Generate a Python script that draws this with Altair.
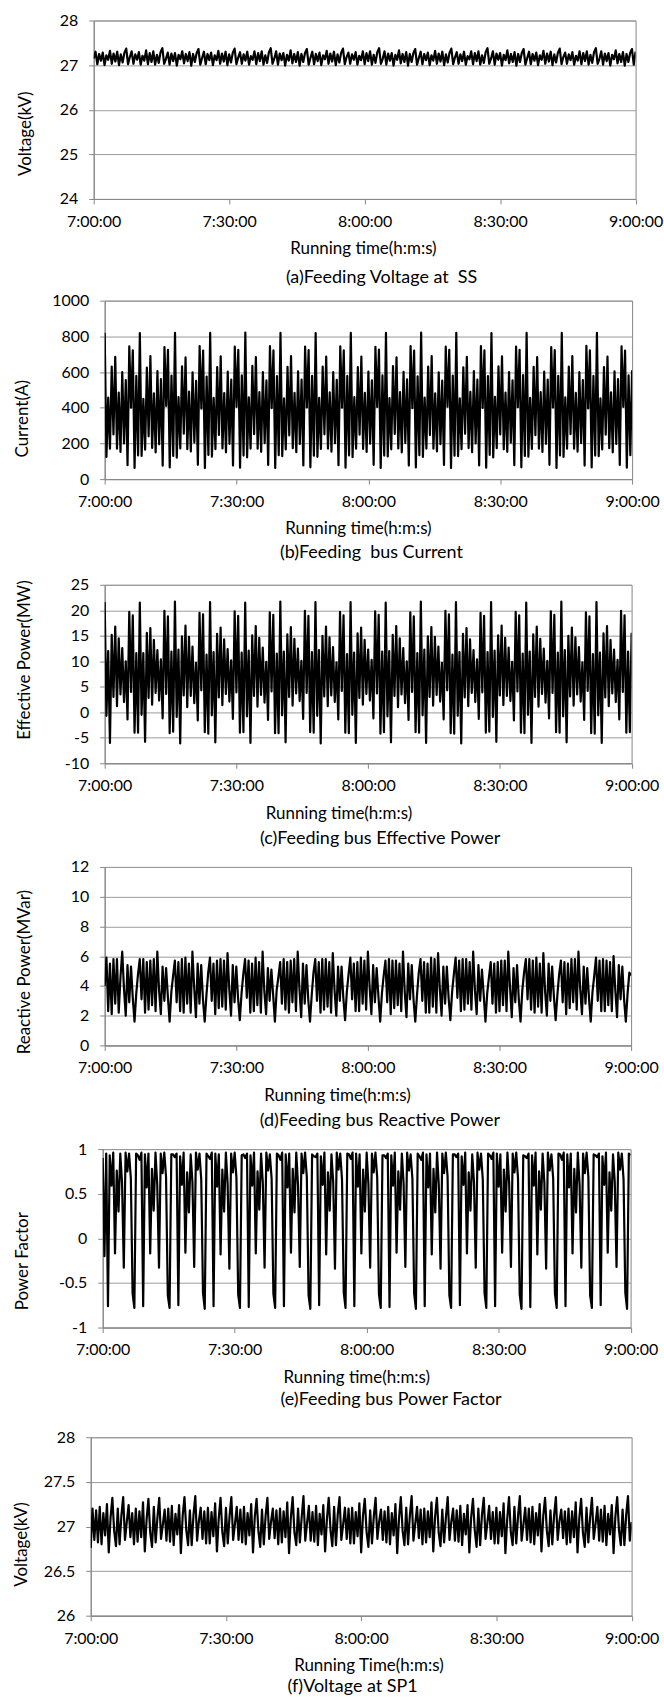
import altair as alt
import pandas as pd

# ---------------- data (one row = one 8-minute train cycle) ----------------
voltage_ss_kv = [
    [27.15,27.30,27.02,27.25,27.10,27.28,27.00,27.22,27.12,27.32,27.03,27.26,27.08,27.30,27.00,27.24,27.06,27.28,27.37,27.02],
    [27.18,27.31,27.03,27.24,27.12,27.29,27.01,27.21,27.10,27.33,27.02,27.27,27.07,27.31,27.01,27.23,27.05,27.29,27.38,27.03],
    [27.14,27.28,27.01,27.26,27.09,27.27,26.99,27.23,27.13,27.31,27.04,27.25,27.09,27.29,26.99,27.25,27.07,27.27,27.36,27.01],
    [27.16,27.30,27.02,27.25,27.11,27.28,27.00,27.22,27.11,27.32,27.03,27.26,27.08,27.30,27.00,27.24,27.06,27.28,27.37,27.02],
    [27.17,27.29,27.03,27.24,27.10,27.30,27.01,27.20,27.12,27.31,27.02,27.27,27.09,27.31,27.01,27.22,27.05,27.29,27.38,27.03],
    [27.15,27.31,27.01,27.26,27.11,27.27,26.99,27.23,27.10,27.33,27.04,27.25,27.07,27.29,26.99,27.25,27.07,27.27,27.36,27.01],
    [27.16,27.30,27.02,27.25,27.09,27.28,27.00,27.22,27.13,27.32,27.03,27.26,27.08,27.30,27.00,27.24,27.06,27.28,27.37,27.02],
    [27.18,27.28,27.03,27.24,27.12,27.29,27.01,27.21,27.11,27.31,27.02,27.27,27.09,27.31,27.01,27.23,27.05,27.29,27.38,27.03],
    [27.14,27.31,27.01,27.26,27.10,27.27,26.99,27.23,27.12,27.33,27.04,27.25,27.07,27.29,26.99,27.25,27.07,27.27,27.36,27.01],
    [27.16,27.30,27.02,27.25,27.11,27.28,27.00,27.22,27.10,27.32,27.03,27.26,27.08,27.30,27.00,27.24,27.06,27.28,27.37,27.02],
    [27.17,27.29,27.03,27.24,27.09,27.30,27.01,27.20,27.13,27.31,27.02,27.27,27.09,27.31,27.01,27.22,27.05,27.29,27.38,27.03],
    [27.15,27.31,27.01,27.26,27.12,27.27,26.99,27.23,27.11,27.33,27.04,27.25,27.07,27.29,26.99,27.25,27.07,27.27,27.36,27.01],
    [27.16,27.30,27.02,27.25,27.10,27.28,27.00,27.22,27.12,27.32,27.03,27.26,27.08,27.30,27.00,27.24,27.06,27.28,27.37,27.02],
    [27.18,27.28,27.03,27.24,27.11,27.29,27.01,27.21,27.10,27.31,27.02,27.27,27.09,27.31,27.01,27.23,27.05,27.29,27.38,27.03],
    [27.14,27.31,27.01,27.26,27.09,27.27,26.99,27.23,27.13,27.33,27.04,27.25,27.07,27.29,26.99,27.25,27.07,27.27,27.36,27.01],
]
voltage_ss_last = 27.30

current_a = [
    [820,124,457,170,630,250,685,170,485,152,600,200,555,78,744,400,722,63,578,133],
    [818,130,450,165,625,240,690,175,480,150,605,195,560,75,740,410,725,65,580,130],
    [820,120,460,172,632,255,682,168,490,155,598,205,550,80,746,395,720,62,575,135],
    [819,126,455,168,628,248,688,172,482,150,602,198,558,76,742,405,724,64,582,132],
    [821,122,458,171,634,252,684,170,487,153,600,202,553,79,745,398,721,63,577,134],
    [820,128,452,166,629,245,689,173,483,151,604,197,557,77,743,402,723,66,579,131],
    [818,125,456,169,631,251,686,171,486,154,599,201,556,78,744,400,722,64,578,133],
    [820,123,459,170,627,249,687,169,484,152,603,199,554,80,741,404,726,63,581,132],
    [819,127,454,167,633,253,683,172,488,150,601,203,559,76,746,397,720,65,576,134],
    [821,124,457,171,630,247,690,170,481,155,598,196,552,79,742,406,724,62,580,131],
    [820,129,453,168,626,254,685,174,489,151,605,200,557,77,745,399,721,64,577,135],
    [818,121,461,173,632,250,688,167,485,153,600,204,554,78,743,403,725,66,583,130],
    [820,126,455,169,629,246,684,171,487,152,602,198,558,80,740,401,723,63,579,133],
    [819,124,458,170,631,252,689,170,483,154,599,202,555,76,747,396,722,65,578,132],
    [820,128,452,166,628,249,686,173,486,150,604,197,560,79,744,405,720,64,581,134],
]
current_last = 610

effective_mw = [
    [21.6,-0.7,12.0,-6.0,15.2,3.0,16.8,1.2,14.5,3.5,12.6,2.0,10.0,-1.4,19.7,4.0,19.0,-4.0,11.6,-4.0],
    [21.5,-0.5,11.6,-5.8,15.6,2.8,16.5,1.5,14.2,3.8,12.2,2.3,10.4,-1.2,19.9,3.6,18.8,-4.1,11.9,-3.8],
    [21.7,-0.9,12.3,-6.1,14.9,3.3,17.0,1.0,14.8,3.2,12.9,1.8,9.7,-1.6,19.5,4.3,19.2,-3.9,11.3,-4.2],
    [21.6,-0.6,11.8,-5.9,15.4,2.9,16.6,1.4,14.3,3.6,12.4,2.1,10.2,-1.3,19.8,3.9,18.9,-4.0,11.7,-3.9],
    [21.5,-0.8,12.1,-6.0,15.1,3.2,16.9,1.1,14.6,3.4,12.7,1.9,9.9,-1.5,19.6,4.1,19.1,-4.1,11.5,-4.1],
    [21.7,-0.6,11.9,-5.9,15.3,3.0,16.7,1.3,14.4,3.7,12.5,2.2,10.1,-1.3,19.9,3.8,18.9,-3.9,11.8,-4.0],
    [21.6,-0.7,12.2,-6.1,15.0,3.1,16.8,1.2,14.7,3.3,12.8,2.0,9.8,-1.4,19.7,4.2,19.0,-4.0,11.4,-4.1],
    [21.6,-0.5,11.7,-6.0,15.5,2.8,16.6,1.5,14.2,3.6,12.3,2.3,10.3,-1.2,19.8,3.7,19.1,-4.2,11.9,-3.9],
    [21.5,-0.8,12.0,-5.9,15.2,3.2,16.9,1.0,14.5,3.5,12.6,1.8,10.0,-1.5,19.6,4.0,18.8,-3.9,11.6,-4.0],
    [21.7,-0.6,12.3,-6.0,14.9,3.0,16.7,1.3,14.8,3.4,12.9,2.1,9.7,-1.4,19.9,4.3,19.2,-4.1,11.3,-4.2],
    [21.6,-0.7,11.8,-6.1,15.4,2.9,16.5,1.2,14.3,3.8,12.2,2.0,10.4,-1.3,19.5,3.9,18.9,-4.0,11.8,-3.8],
    [21.6,-0.9,12.1,-5.8,15.1,3.3,17.0,1.4,14.6,3.2,12.7,2.2,9.9,-1.6,19.7,4.1,19.0,-4.0,11.5,-4.1],
    [21.5,-0.5,11.9,-6.0,15.3,3.0,16.8,1.1,14.4,3.6,12.5,1.9,10.1,-1.2,19.8,3.8,19.1,-3.9,11.7,-4.0],
    [21.7,-0.8,12.2,-5.9,15.0,3.1,16.6,1.3,14.7,3.5,12.8,2.1,9.8,-1.5,19.6,4.2,18.8,-4.1,11.4,-4.2],
    [21.6,-0.6,11.7,-6.0,15.5,2.9,16.9,1.2,14.2,3.7,12.3,2.0,10.3,-1.4,19.9,4.0,19.0,-4.0,11.9,-3.9],
]
effective_last = 15.6

reactive_mvar = [
    [4.0,5.9,2.3,5.5,2.1,5.8,2.8,5.8,2.2,4.6,6.3,3.8,2.0,5.4,2.9,5.3,3.2,1.6,3.5,4.8],
    [5.8,3.1,5.8,2.2,5.6,2.4,5.7,2.7,5.8,2.3,6.3,3.7,2.1,5.3,3.0,5.2,3.3,1.6,3.6,4.7],
    [5.7,2.9,5.6,2.3,5.8,2.2,5.9,2.8,5.5,2.2,6.3,3.9,1.9,5.5,2.8,5.4,3.1,1.6,3.4,4.9],
    [5.9,3.0,5.5,2.1,5.7,2.5,5.8,2.6,5.7,2.4,6.2,3.8,2.0,5.4,2.9,5.3,3.2,1.7,3.5,4.8],
    [5.8,3.2,5.7,2.2,5.5,2.3,5.9,2.7,5.6,2.2,6.3,3.6,2.1,5.2,3.0,5.1,3.4,1.6,3.7,4.6],
    [5.6,2.8,5.8,2.4,5.6,2.2,5.7,2.9,5.8,2.3,6.3,3.8,1.9,5.5,2.8,5.4,3.1,1.6,3.4,4.9],
    [5.8,3.0,5.6,2.2,5.8,2.4,5.8,2.6,5.6,2.2,6.2,3.7,2.0,5.3,3.0,5.3,3.2,1.7,3.6,4.8],
    [5.9,3.1,5.5,2.3,5.6,2.3,5.9,2.8,5.7,2.4,6.3,3.9,2.1,5.4,2.9,5.2,3.3,1.6,3.5,4.7],
    [5.7,2.9,5.8,2.1,5.7,2.5,5.7,2.7,5.5,2.3,6.3,3.6,1.9,5.5,3.1,5.4,3.1,1.6,3.4,4.9],
    [5.8,3.0,5.6,2.2,5.5,2.2,5.9,2.6,5.8,2.2,6.2,3.8,2.0,5.3,2.8,5.3,3.2,1.7,3.6,4.8],
    [5.9,3.2,5.7,2.3,5.8,2.4,5.8,2.8,5.6,2.4,6.3,3.7,2.1,5.4,3.0,5.1,3.4,1.6,3.5,4.6],
    [5.6,2.8,5.5,2.2,5.6,2.3,5.7,2.7,5.7,2.3,6.3,3.9,1.9,5.2,2.9,5.4,3.1,1.6,3.7,4.9],
    [5.8,3.1,5.8,2.4,5.7,2.2,5.9,2.6,5.5,2.2,6.2,3.6,2.0,5.5,3.0,5.3,3.3,1.7,3.4,4.8],
    [5.7,2.9,5.6,2.1,5.5,2.5,5.8,2.9,5.8,2.4,6.3,3.8,2.1,5.3,2.8,5.2,3.2,1.6,3.6,4.7],
    [5.9,3.0,5.7,2.3,5.8,2.3,5.7,2.7,5.6,2.3,6.0,3.7,1.9,5.4,3.1,5.3,3.1,1.6,3.5,4.9],
]
reactive_last = 4.7

power_factor = [
    [0.90,-0.20,0.95,-0.76,0.93,0.59,0.96,-0.17,0.76,0.30,0.95,0.62,-0.33,0.96,0.75,0.95,0.67,-0.62,-0.78,0.95],
    [0.93,0.88,0.96,-0.76,0.94,0.57,0.95,-0.17,0.78,0.31,0.96,0.60,-0.33,0.95,0.73,0.96,0.69,-0.64,-0.78,0.94],
    [0.94,0.91,0.95,-0.75,0.92,0.60,0.96,-0.16,0.74,0.29,0.94,0.63,-0.32,0.96,0.77,0.95,0.66,-0.61,-0.79,0.95],
    [0.92,0.89,0.96,-0.76,0.95,0.58,0.94,-0.18,0.77,0.30,0.96,0.61,-0.34,0.95,0.74,0.96,0.68,-0.63,-0.78,0.93],
    [0.94,0.90,0.95,-0.77,0.93,0.59,0.96,-0.17,0.75,0.32,0.95,0.62,-0.33,0.96,0.76,0.94,0.67,-0.62,-0.78,0.95],
    [0.93,0.88,0.96,-0.76,0.94,0.57,0.95,-0.16,0.78,0.29,0.96,0.60,-0.32,0.95,0.73,0.96,0.69,-0.64,-0.79,0.94],
    [0.92,0.91,0.95,-0.75,0.92,0.60,0.96,-0.18,0.74,0.31,0.94,0.63,-0.34,0.96,0.77,0.95,0.66,-0.61,-0.78,0.95],
    [0.94,0.89,0.96,-0.76,0.95,0.58,0.94,-0.17,0.77,0.30,0.96,0.61,-0.33,0.95,0.74,0.96,0.68,-0.63,-0.78,0.93],
    [0.93,0.90,0.95,-0.77,0.93,0.59,0.96,-0.16,0.75,0.32,0.95,0.62,-0.32,0.96,0.76,0.94,0.67,-0.62,-0.79,0.95],
    [0.92,0.88,0.96,-0.76,0.94,0.57,0.95,-0.18,0.78,0.29,0.96,0.60,-0.34,0.95,0.73,0.96,0.69,-0.64,-0.78,0.94],
    [0.94,0.91,0.95,-0.75,0.92,0.60,0.96,-0.17,0.74,0.31,0.94,0.63,-0.33,0.96,0.77,0.95,0.66,-0.61,-0.78,0.95],
    [0.93,0.89,0.96,-0.76,0.95,0.58,0.94,-0.16,0.77,0.30,0.96,0.61,-0.32,0.95,0.74,0.96,0.68,-0.63,-0.79,0.93],
    [0.92,0.90,0.95,-0.77,0.93,0.59,0.96,-0.18,0.75,0.32,0.95,0.62,-0.34,0.96,0.76,0.94,0.67,-0.62,-0.78,0.95],
    [0.94,0.88,0.96,-0.76,0.94,0.57,0.95,-0.17,0.78,0.29,0.96,0.60,-0.33,0.95,0.73,0.96,0.69,-0.64,-0.78,0.94],
    [0.93,0.91,0.95,-0.75,0.92,0.60,0.96,-0.16,0.74,0.31,0.94,0.63,-0.32,0.96,0.77,0.95,0.66,-0.61,-0.79,0.95],
]
power_factor_last = 0.93

voltage_sp1_kv = [
    [26.76,27.20,26.85,27.18,26.82,27.22,26.80,27.15,26.90,27.25,26.71,27.10,27.32,26.95,26.78,27.20,26.80,27.12,27.33,26.85],
    [27.05,27.24,26.88,27.15,26.80,27.20,26.83,27.17,26.88,27.27,26.72,27.08,27.31,26.93,26.77,27.22,26.82,27.10,27.32,26.86],
    [27.02,27.19,26.84,27.20,26.83,27.23,26.79,27.14,26.91,27.24,26.70,27.12,27.33,26.96,26.79,27.18,26.79,27.13,27.34,26.84],
    [27.06,27.21,26.86,27.17,26.81,27.21,26.81,27.16,26.89,27.26,26.72,27.09,27.32,26.94,26.78,27.21,26.81,27.11,27.33,26.85],
    [27.03,27.22,26.85,27.19,26.82,27.22,26.80,27.15,26.90,27.25,26.71,27.11,27.31,26.95,26.77,27.19,26.80,27.12,27.32,26.86],
    [27.05,27.20,26.87,27.18,26.80,27.20,26.82,27.17,26.88,27.27,26.70,27.10,27.33,26.93,26.79,27.20,26.82,27.10,27.34,26.84],
    [27.04,27.23,26.84,27.16,26.83,27.23,26.79,27.14,26.91,27.24,26.72,27.08,27.32,26.96,26.78,27.22,26.79,27.13,27.33,26.85],
    [27.02,27.21,26.86,27.20,26.81,27.21,26.81,27.16,26.89,27.26,26.71,27.12,27.31,26.94,26.77,27.18,26.81,27.11,27.32,26.86],
    [27.06,27.19,26.85,27.17,26.82,27.22,26.80,27.15,26.90,27.25,26.70,27.09,27.33,26.95,26.79,27.21,26.80,27.12,27.34,26.84],
    [27.03,27.22,26.87,27.19,26.80,27.20,26.82,27.17,26.88,27.27,26.72,27.11,27.32,26.93,26.78,27.19,26.82,27.10,27.33,26.85],
    [27.05,27.20,26.84,27.18,26.83,27.23,26.79,27.14,26.91,27.24,26.71,27.10,27.31,26.96,26.77,27.20,26.79,27.13,27.32,26.86],
    [27.04,27.23,26.86,27.16,26.81,27.21,26.81,27.16,26.89,27.26,26.70,27.08,27.33,26.94,26.79,27.22,26.81,27.11,27.34,26.84],
    [27.02,27.21,26.85,27.20,26.82,27.22,26.80,27.15,26.90,27.25,26.72,27.12,27.32,26.95,26.78,27.18,26.80,27.12,27.33,26.85],
    [27.06,27.19,26.87,27.17,26.80,27.20,26.82,27.17,26.88,27.27,26.71,27.09,27.31,26.93,26.77,27.21,26.82,27.10,27.32,26.86],
    [27.03,27.22,26.84,27.19,26.83,27.23,26.79,27.14,26.91,27.24,26.70,27.11,27.33,26.96,26.79,27.19,26.79,27.13,27.34,26.84],
]
voltage_sp1_last = 27.05

x_tick_minutes = [0, 30, 60, 90, 120]
x_tick_expr = "(7 + floor(datum.value / 60)) + ':' + (datum.value % 60 == 0 ? '00' : '30') + ':00'"

FONT = "Lato"
PLOT_H = 179
YTITLE_FS = 17


def series(rows, last):
    vals = [v for row in rows for v in row] + [last]
    n = len(vals)
    return pd.DataFrame({"t": [120.0 * i / (n - 1) for i in range(n)], "v": vals})


def spacer(w):
    return alt.Chart(pd.DataFrame({"d": [0]})).mark_point(size=1, opacity=0).encode(
        x=alt.value(w / 2), y=alt.value(PLOT_H / 2)
    ).properties(width=w, height=PLOT_H, view=alt.ViewBackground(stroke="transparent"))


def panel(df, ytitle, ydomain, yticks, subtitle, width, left, ytitle_c, ytitle_y, xtitle_x,
          sub_dx, sub_offset, xtitle="Running time(h:m:s)", extra=None):
    title_kw = dict(orient="bottom", anchor="middle", frame="group", dx=sub_dx, offset=sub_offset,
                    font=FONT, fontSize=18, fontWeight="normal", color="black")
    if extra is not None:
        # invisible second line that only reserves vertical room below the caption
        title_kw.update(subtitle=" ", subtitleFontSize=extra[0], subtitlePadding=extra[1],
                        subtitleColor="white")
    body = alt.Chart(df).mark_line(color="black", strokeWidth=2.2, strokeJoin="round", clip=True).encode(
        x=alt.X("t:Q",
                scale=alt.Scale(domain=[0, 120], nice=False, zero=False),
                axis=alt.Axis(values=x_tick_minutes, labelExpr=x_tick_expr, title=xtitle,
                              grid=False, labelPadding=9.5, labelFlush=False,
                              titleX=xtitle_x, titleY=50, titleBaseline="middle")),
        y=alt.Y("v:Q",
                scale=alt.Scale(domain=ydomain, nice=False, zero=False),
                axis=alt.Axis(values=yticks, labelExpr="'' + datum.value", title=ytitle,
                              grid=True, labelPadding=11, labelFlush=False,
                              titleX=ytitle_c - left, titleY=ytitle_y, titleAngle=270,
                              titleBaseline="middle")),
    ).properties(width=width, height=PLOT_H, title=alt.TitleParams(subtitle, **title_kw))
    # left spacer so that every plot area starts where it does in the original figure
    return alt.hconcat(spacer(ytitle_c - YTITLE_FS / 2), body, spacing=0)


p_a = panel(series(voltage_ss_kv, voltage_ss_last), "Voltage(kV)", [24, 28], [24, 25, 26, 27, 28],
            "(a)Feeding Voltage at \u00a0SS", 543.5, 90, 21.3, 113, 270, 17, 12.5)
p_b = panel(series(current_a, current_last), "Current(A)", [0, 1000], [0, 200, 400, 600, 800, 1000],
            "(b)Feeding \u00a0bus Current", 529, 102, 20, 118, 254, 3, 7.5, extra=(6, 3))
p_c = panel(series(effective_mw, effective_last), "Effective Power(MW)", [-10, 25],
            [-10, -5, 0, 5, 10, 15, 20, 25],
            "(c)Feeding bus Effective Power", 528.5, 102.5, 22, 75, 234.5, 12, 8.5, extra=(4, 2))
p_d = panel(series(reactive_mvar, reactive_last), "Reactive Power(MVar)", [0, 12], [0, 2, 4, 6, 8, 10, 12],
            "(d)Feeding bus Reactive Power", 528, 102, 22, 105, 233, 12, 8.5, extra=(4, 2))
p_e = panel(series(power_factor, power_factor_last), "Power Factor", [-1, 1], [-1, -0.5, 0, 0.5, 1],
            "(e)Feeding bus Power Factor", 529.5, 99.6, 19.5, 112, 254.4, 24.5, 5.5, extra=(10, 4.5))
p_f = panel(series(voltage_sp1_kv, voltage_sp1_last), "Voltage(kV)", [26, 28], [26, 26.5, 27, 27.5, 28],
            "(f)Voltage at SP1", 542.5, 88, 19, 107, 278.5, -8.6, 4.5, xtitle="Running Time(h:m:s)")

chart = alt.vconcat(p_a, p_b, p_c, p_d, p_e, p_f, spacing=4).properties(
    padding={"left": 0, "top": 9, "right": 0, "bottom": 0},
    background="white",
).configure_axis(
    labelFont=FONT, labelFontSize=16, labelColor="#000000",
    titleFont=FONT, titleFontSize=YTITLE_FS, titleFontWeight="normal", titleColor="#000000",
    domainColor="#868686", domainWidth=1, tickColor="#868686", tickSize=5,
    gridColor="#9c9c9c", gridWidth=1,
).configure_view(stroke="#868686", strokeWidth=1)

chart.save("out.html", embed_options={"renderer": "svg", "actions": False})
